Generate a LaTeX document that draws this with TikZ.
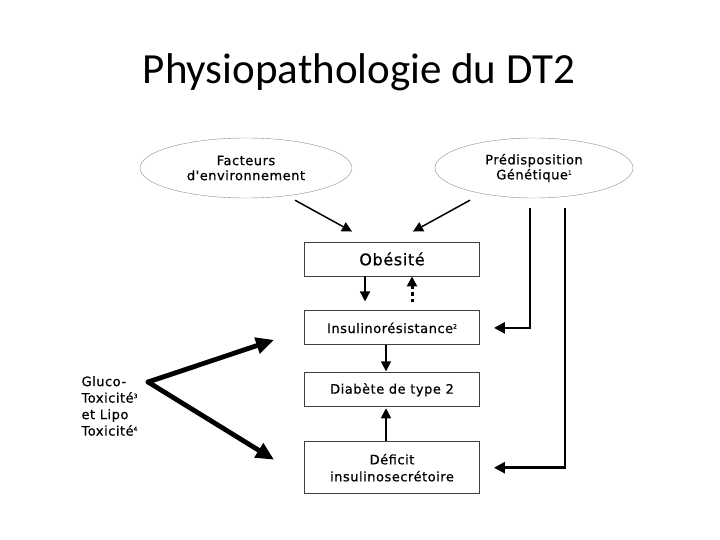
\documentclass[tikz,border=0pt]{standalone}
\usepackage{fontspec}
\setmainfont{Carlito}
\newfontfamily\diagfont[LetterSpace=4,FakeBold=0.6]{DejaVu Sans}
\newcommand{\expo}[1]{\raisebox{4.5pt}{\fontsize{6}{6}\selectfont #1}}
\usetikzlibrary{arrows.meta,positioning,shapes.geometric,calc}

\begin{document}
\begin{tikzpicture}[x=1pt,y=-1pt,font=\diagfont\fontsize{13}{15}\selectfont,node distance=34pt,
  cloud/.style={draw=black!45,ellipse,align=center,minimum width=212pt,minimum height=60pt,inner sep=0pt},
  box/.style={draw=black!75,line width=0.9pt,minimum width=175pt,minimum height=34pt,align=center,inner sep=2pt},
  link/.style={-{Triangle[length=10pt,width=10pt]},line width=1.5pt},
  wire/.style={-{Triangle[length=11pt,width=11pt]},line width=2.8pt},
  fat/.style={-{Triangle[length=18pt,width=16pt]},line width=4.8pt},
  >=Stealth]
  \useasboundingbox (0,0) rectangle (720,540);
  \node[font=\rmfamily\fontsize{43}{48}\selectfont] (title) at (359,72) {Physiopathologie du DT2};
  \node[cloud] (env) at (246,168) {Facteurs\\d'environnement};
  \node[cloud,minimum width=198pt] (gen) at (534,168) {Prédisposition\\Génétique\expo{1}};
  \node[box,font=\diagfont\fontsize{16}{16}\selectfont] (ob) at (392,259) {Obésité};
  \node[box,below=34pt of ob] (ir) {Insulinorésistance\expo{2}};
  \node[box,below=27pt of ir] (dt) {Diabète de type 2};
  \node[box,below=34pt of dt,minimum height=52pt,font=\diagfont\fontsize{13}{17}\selectfont] (def) {Déficit\\insulinosecrétoire};
  \node[anchor=west,align=left,font=\diagfont\fontsize{13}{16.5}\selectfont] (tox) at (78,406) {Gluco-\\Toxicité\expo{3}\\et Lipo\\Toxicité\expo{4}};
  \coordinate (apex) at (148,382);
  \draw[link] ($(env.south)+(49,2)$) -- ($(ob.north)+(-40,-10)$);
  \draw[link] ($(gen.south)+(-64,2)$) -- ($(ob.north)+(21,-10)$);
  \draw[link,shorten >=9pt] ($(ob.south)+(-27,0)$) -- ($(ir.north)+(-27,0)$);
  \draw[link,dash pattern=on 3.5pt off 3pt,line width=3pt,shorten <=8pt] ($(ir.north)+(20,0)$) -- ($(ob.south)+(20,0)$);
  \draw[link,shorten >=1pt] ($(ir.south)+(-6,0)$) -- ($(dt.north)+(-6,0)$);
  \draw[link,shorten >=1pt] ($(def.north)+(-6,0)$) -- ($(dt.south)+(-6,0)$);
  \draw[wire,shorten >=14pt] ($(gen.south)+(-4,10)$) |- (ir.east);
  \draw[wire,shorten >=14pt] ($(gen.south)+(31,10)$) |- (def.east);
  \draw[fat,line cap=round] (apex) -- ($(ir.west)+(-30,12)$);
  \draw[fat,line cap=round] (apex) -- ($(def.west)+(-30,-8)$);
\end{tikzpicture}
\end{document}
